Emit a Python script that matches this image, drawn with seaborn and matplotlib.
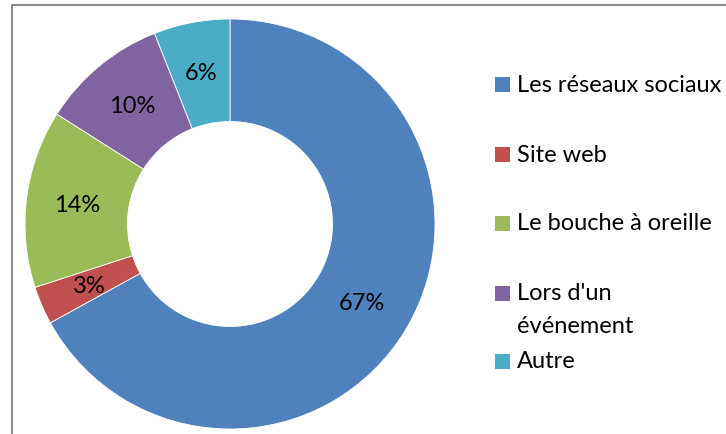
import matplotlib
matplotlib.use("Agg")
import matplotlib.pyplot as plt
import seaborn as sns
from matplotlib.lines import Line2D
from matplotlib.patches import Rectangle

# data
categories = ["Les réseaux sociaux", "Site web", "Le bouche à oreille",
              "Lors d'un\névénement", "Autre"]
values = [67, 3, 14, 10, 6]
colors = ["#4F81BD", "#C0504D", "#9BBB59", "#8064A2", "#4BACC6"]

sns.set_theme(style="white")
plt.rcParams['font.family'] = ['Lato', 'DejaVu Sans']

W, H = 726, 435
fig = plt.figure(figsize=(W / 100, H / 100), dpi=100)
fig.patch.set_facecolor("white")

# donut axes, placed in pixels
cx, cy, r = 230, 225, 205
ax = fig.add_axes([(cx - r) / W, (H - cy - r) / H, 2 * r / W, 2 * r / H])
wedges, texts, autotexts = ax.pie(
    values, colors=colors, startangle=90, counterclock=False,
    autopct=lambda p: f"{p:.0f}%", pctdistance=0.75,
    wedgeprops=dict(width=0.5, edgecolor="white", linewidth=0.6),
    textprops=dict(fontsize=17, color="black"))
ax.set_xlim(-1, 1)
ax.set_ylim(-1, 1)
ax.set_aspect("equal")
ax.axis("off")

# legend drawn by hand to match the spacing
leg_y = [85, 155, 224, 294, 362]
line_gap = 33
sq = 15
for lab, col, y in zip(categories, colors, leg_y):
    fig.add_artist(Rectangle((495 / W, (H - y - sq / 2) / H), sq / W, sq / H,
                             transform=fig.transFigure, facecolor=col,
                             edgecolor="none"))
    for i, line in enumerate(lab.split("\n")):
        fig.text(517 / W, (H - y - i * line_gap) / H, line, fontsize=17,
                 va="center", ha="left", color="black")

# chart border (left and top visible)
fig.add_artist(Line2D([12 / W, 12 / W], [0, (H - 6) / H], transform=fig.transFigure,
                      color="#8c8c8c", linewidth=1.5))
fig.add_artist(Line2D([12 / W, 1], [(H - 6) / H, (H - 6) / H], transform=fig.transFigure,
                      color="#8c8c8c", linewidth=1.5))

fig.savefig("out.png", dpi=100)
